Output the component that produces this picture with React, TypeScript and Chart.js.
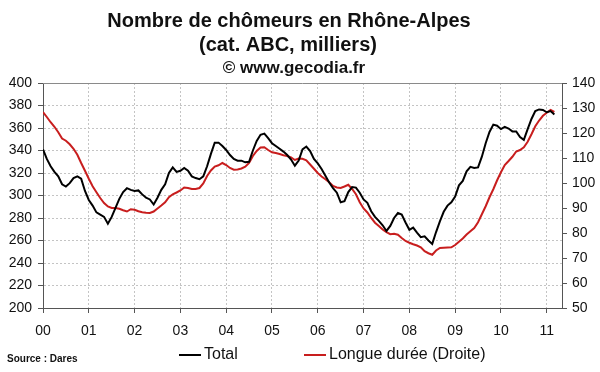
import React, { useEffect, useRef } from "react";
import { Chart, registerables } from "chart.js";

Chart.register(...registerables);

const titleLines = ["Nombre de chômeurs en Rhône-Alpes", "(cat. ABC, milliers)"];
const subtitleText = "© www.gecodia.fr";
const sourceText = "Source : Dares";
const seriesNames = ["Total", "Longue durée (Droite)"];
const yearLabels = ["00", "01", "02", "03", "04", "05", "06", "07", "08", "09", "10", "11"];

// Monthly values, January 2000 onwards (thousands)
const totalValues = [
  341, 332.5, 326, 321, 317, 310, 308, 311, 315.5, 317, 315, 304,
  296, 291, 285, 283, 281, 275, 281, 289, 297, 303, 306.5, 305,
  304, 304.5, 301, 298, 296.5, 292, 298, 305, 310, 320, 325, 321,
  322, 324.5, 322, 317, 315.5, 314.5, 317, 326, 337, 347, 347, 344,
  340.5, 336, 332.5, 331, 331, 329.5, 330, 340, 348.5, 354, 355, 351,
  346.5, 344, 341.5, 339, 336, 332, 326.5, 331, 341, 343.5, 339.5, 332.5,
  328.5, 323.5, 317.5, 311.5, 306.5, 302.5, 294, 295, 303, 307.5, 307, 302.5,
  296.5, 293.5, 286, 281, 277.5, 273.5, 268.5, 273, 280, 284.4, 283, 276,
  269.5, 271.5, 267, 263, 263.7, 260, 257, 267.5, 277, 285.5, 291, 294,
  299, 309, 313, 321.5, 325.5, 324.5, 325, 334.5, 346.5, 356.5, 363, 362,
  359, 361, 359.5, 357, 357, 352, 349.5, 359, 368, 375, 376.5, 376,
  374, 375, 372,
];

const longueDureeValues = [
  128.4, 126.4, 124.3, 122.5, 120.3, 117.8, 116.9, 115.5, 113.7, 111.3, 108, 104.9,
  101.7, 98.7, 96.3, 94, 92, 90.6, 90, 90, 89.7, 89.1, 88.6, 89.5,
  89.3, 88.7, 88.3, 88.1, 88, 88.6, 89.8, 91, 92.3, 94.3, 95.5, 96.2,
  97, 98.2, 98, 97.6, 97.6, 98, 99.8, 102.8, 105, 106.6, 107.1, 108,
  107.2, 106, 105.3, 105.4, 105.8, 106.5, 108, 110.8, 112.8, 114.2, 114.3, 113.2,
  112.3, 112, 111.6, 111.1, 110.8, 110.2, 109.2, 109.8, 109.7, 109.1, 107.4, 105.7,
  104, 102.6, 101.5, 100.3, 98.8, 98.2, 98, 98.6, 99.3, 97.6, 95.5, 92.3,
  89.8, 88.2, 86, 84.1, 82.8, 81.4, 80.3, 79.5, 79.7, 79.3, 78, 76.8,
  76.1, 75.5, 75, 74.3, 72.7, 71.9, 71.3, 73, 74, 74.1, 74.2, 74.3,
  75.2, 76.5, 77.8, 79.4, 80.7, 82, 84.3, 87.5, 90.7, 94.3, 97.5, 101.1,
  104.3, 107.2, 108.8, 110.5, 112.6, 113.2, 114.3, 116.5, 119.5, 122.7, 125, 126.9,
  128.1, 129.2, 128.4,
];

const FONT = "'Liberation Sans', Arial, sans-serif";
const BLACK = "#000000";
const RED = "#c81e1e";
const AXIS = "#555555";
const GRID = "#c4c4c4";

const decorPlugin = {
  id: "decor",
  afterDraw(chart: any) {
    const { ctx, chartArea } = chart;
    ctx.save();
    // top frame line
    ctx.strokeStyle = "#8a8a8a";
    ctx.lineWidth = 1;
    ctx.beginPath();
    ctx.moveTo(chartArea.left, Math.round(chartArea.top) + 0.5);
    ctx.lineTo(chartArea.right, Math.round(chartArea.top) + 0.5);
    ctx.stroke();

    // titles
    ctx.fillStyle = "#111";
    ctx.textAlign = "center";
    ctx.textBaseline = "middle";
    ctx.font = `bold 20px ${FONT}`;
    ctx.fillText(titleLines[0], 289, 21);
    ctx.fillText(titleLines[1], 288, 45);
    ctx.font = `bold 17px ${FONT}`;
    ctx.fillText(subtitleText, 294, 68);

    // legend
    ctx.textAlign = "left";
    ctx.font = `16px ${FONT}`;
    const ly = 355;
    ctx.lineWidth = 2;
    ctx.strokeStyle = BLACK;
    ctx.beginPath();
    ctx.moveTo(179, ly);
    ctx.lineTo(201, ly);
    ctx.stroke();
    ctx.fillText(seriesNames[0], 204, ly);
    ctx.strokeStyle = RED;
    ctx.beginPath();
    ctx.moveTo(304, ly);
    ctx.lineTo(326, ly);
    ctx.stroke();
    ctx.fillText(seriesNames[1], 329, ly);

    // source
    ctx.font = `bold 10px ${FONT}`;
    ctx.fillText(sourceText, 7, 359);
    ctx.restore();
  },
};

export default function App() {
  const ref = useRef<HTMLCanvasElement>(null);

  useEffect(() => {
    if (!ref.current) return;
    const tickFont = { family: FONT, size: 14 };
    const chart = new Chart(ref.current, {
      type: "line",
      data: {
        datasets: [
          {
            label: seriesNames[0],
            data: totalValues.map((v, i) => ({ x: i, y: v })),
            borderColor: BLACK,
            backgroundColor: BLACK,
            borderWidth: 2,
            pointRadius: 0,
            yAxisID: "y",
          },
          {
            label: seriesNames[1],
            data: longueDureeValues.map((v, i) => ({ x: i, y: v })),
            borderColor: RED,
            backgroundColor: RED,
            borderWidth: 2,
            pointRadius: 0,
            yAxisID: "y1",
          },
        ],
      },
      options: {
        responsive: false,
        animation: false,
        layout: { padding: { top: 83, left: 0, right: 0, bottom: 0 } },
        plugins: {
          legend: { display: false },
          title: { display: false },
          tooltip: { enabled: false },
        },
        scales: {
          x: {
            type: "linear",
            min: 0,
            max: 136,
            afterFit: (s: any) => {
              s.height = 64;
            },
            ticks: {
              stepSize: 12,
              includeBounds: false,
              autoSkip: false,
              maxRotation: 0,
              padding: 10,
              color: "#111",
              font: tickFont,
              callback: (v: any) => {
                const idx = Number(v) / 12;
                return Number.isInteger(idx) && yearLabels[idx] !== undefined ? yearLabels[idx] : "";
              },
            },
            grid: {
              color: GRID,
              lineWidth: 1,
              tickLength: 5,
              tickColor: AXIS,
              tickBorderDash: [],
            },
            border: { display: true, color: AXIS, width: 1, dash: [2, 2] },
          },
          y: {
            position: "left",
            min: 200,
            max: 400,
            afterFit: (s: any) => {
              s.width = 43;
            },
            ticks: {
              stepSize: 20,
              padding: 6,
              color: "#111",
              font: tickFont,
            },
            grid: {
              color: GRID,
              lineWidth: 1,
              tickLength: 5,
              tickColor: AXIS,
              tickBorderDash: [],
            },
            border: { display: true, color: AXIS, width: 1, dash: [2, 2] },
          },
          y1: {
            position: "right",
            min: 50,
            max: 140,
            afterFit: (s: any) => {
              s.width = 38;
            },
            ticks: {
              stepSize: 10,
              padding: 5,
              color: "#111",
              font: tickFont,
            },
            grid: {
              drawOnChartArea: false,
              tickLength: 5,
              tickColor: AXIS,
              color: AXIS,
            },
            border: { display: true, color: AXIS, width: 1 },
          },
        },
      },
      plugins: [decorPlugin],
    } as any);
    return () => chart.destroy();
  }, []);

  return (
    <div style={{ position: "absolute", left: 0, top: 0, width: 600, height: 372, background: "#fff" }}>
      <canvas ref={ref} width={600} height={372} style={{ display: "block" }} />
    </div>
  );
}
